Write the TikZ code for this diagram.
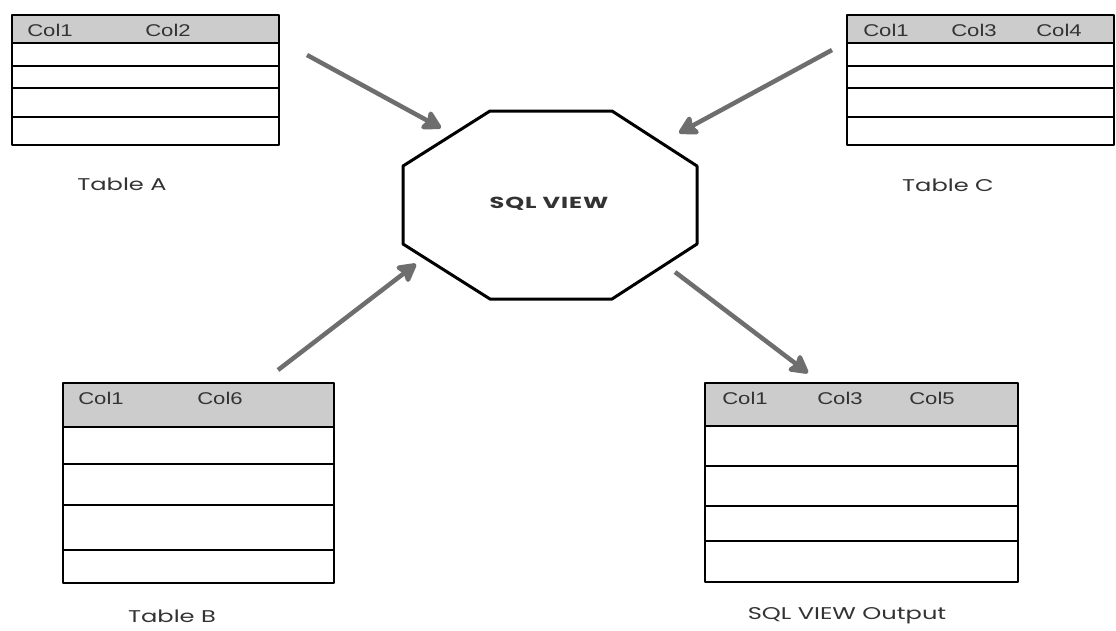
\documentclass[tikz,border=0pt]{standalone}
\usepackage{fontspec}
\setmainfont{Liberation Sans}
\newfontfamily\colfont[FakeStretch=1.3]{Liberation Sans}
\newfontfamily\labelfont[FakeStretch=1.42]{Poppins}
\newfontfamily\viewfont[FakeStretch=1.5,LetterSpace=6]{Poppins}
\usetikzlibrary{arrows.meta}
\definecolor{headgray}{HTML}{CCCCCC}
\definecolor{textgray}{HTML}{333333}
\definecolor{arrowgray}{HTML}{6E6E6E}
\tikzset{
  cell/.style={draw=black, line width=2.8pt, fill=white, line join=round},
  headcell/.style={cell, fill=headgray},
  colname/.style={font=\colfont\fontsize{17}{20}\selectfont, text=textgray, inner sep=0pt},
  caption/.style={font=\labelfont\fontsize{17}{20}\selectfont, text=textgray, inner sep=0pt},
  viewshape/.style={draw=black, line width=3pt, fill=white, line join=round},
  flow/.style={draw=arrowgray, line width=4.5pt,
    -{Stealth[length=22pt,width=24pt,inset=4pt,round]}},
}
\begin{document}
\begin{tikzpicture}[x=1pt,y=-1pt]
  \useasboundingbox[fill=white] (0,0) rectangle (1116,630);

  % Table A
  \draw[headcell] (12,15) rectangle (279,43);
  \foreach \a/\b in {43/66,66/88,88/117,117/145}
    \draw[cell] (12,\a) rectangle (279,\b);
  \node[colname] (a1) at (50,30) {Col1};
  \node[colname] (a2) at (168,30) {Col2};
  \node[caption] (capA) at (122,184) {Table A};

  % Table C
  \draw[headcell] (847,15) rectangle (1114,43);
  \foreach \a/\b in {43/66,66/88,88/117,117/145}
    \draw[cell] (847,\a) rectangle (1114,\b);
  \node[colname] (c1) at (886,30) {Col1};
  \node[colname] (c3) at (974,30) {Col3};
  \node[colname] (c4) at (1059,30) {Col4};
  \node[caption] (capC) at (948,185) {Table C};

  % Table B
  \draw[headcell] (63,383) rectangle (334,427);
  \foreach \a/\b in {427/464,464/505,505/550,550/583}
    \draw[cell] (63,\a) rectangle (334,\b);
  \node[colname] (b1) at (101,398) {Col1};
  \node[colname] (b6) at (220,398) {Col6};
  \node[caption] (capB) at (172,616) {Table B};

  % Output table
  \draw[headcell] (705,383) rectangle (1018,426);
  \foreach \a/\b in {426/466,466/506,506/541,541/582}
    \draw[cell] (705,\a) rectangle (1018,\b);
  \node[colname] (o1) at (745,398) {Col1};
  \node[colname] (o3) at (840,398) {Col3};
  \node[colname] (o5) at (932,398) {Col5};
  \node[caption] (capO) at (847,616) {SQL VIEW Output};

  % The view
  \draw[viewshape] (490,111) -- (612,111) -- (697,166) -- (697,244)
    -- (612,299) -- (490,299) -- (403,244) -- (403,166) -- cycle;
  \node[caption, font=\viewfont\bfseries\fontsize{16}{19}\selectfont] (view) at (549,204) {SQL VIEW};

  % Arrow end points
  \coordinate (fromA) at (307,55);
  \coordinate (toA)   at (441,128);
  \coordinate (fromC) at (832,50);
  \coordinate (toC)   at (679,133);
  \coordinate (fromB) at (278,370);
  \coordinate (toB)   at (416,264);
  \coordinate (fromV) at (675,272);
  \coordinate (toO)   at (808,373);

  \draw[flow] (fromA) -- (toA);
  \draw[flow] (fromC) -- (toC);
  \draw[flow] (fromB) -- (toB);
  \draw[flow] (fromV) -- (toO);
\end{tikzpicture}
\end{document}
